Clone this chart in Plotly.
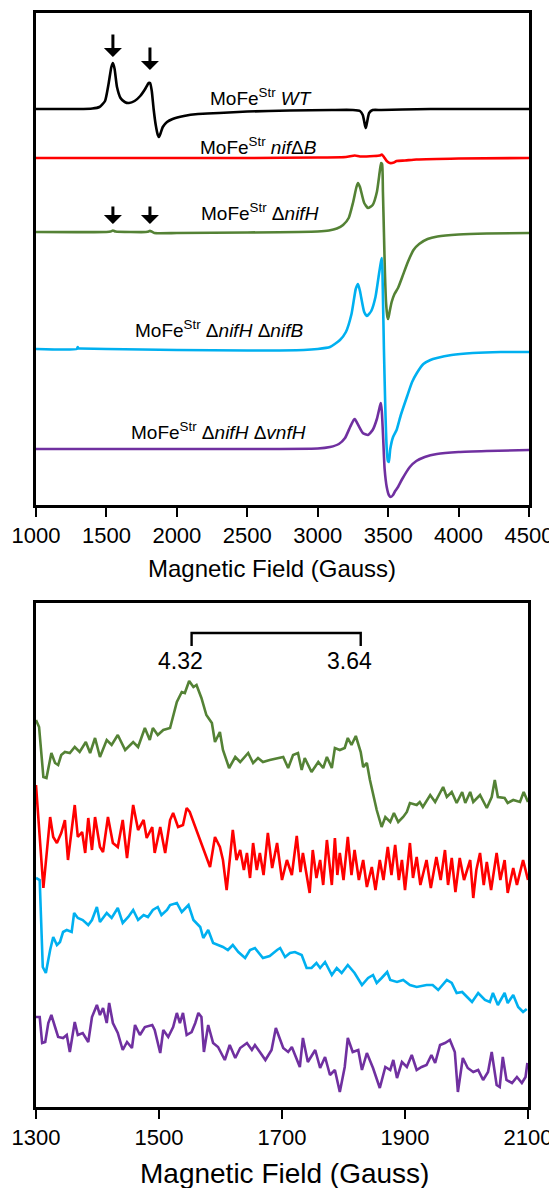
import plotly.graph_objects as go

# ---------------- Top panel data (arbitrary intensity units, relative to each baseline) ----------------
wt_field = [1000, 1300, 1400, 1450, 1490, 1515, 1535, 1546, 1558, 1575, 1600, 1630, 1660, 1700, 1740, 1775,
            1800, 1810, 1822, 1835, 1850, 1865, 1873, 1885, 1900, 1930, 1970, 2050, 2150, 2300, 2500, 2800,
            3100, 3250, 3300, 3320, 3335, 3342, 3352, 3365, 3390, 3450, 3600, 3800, 4500]
wt_int = [0, 0, 0.5, 2, 8, 25, 42, 46, 40, 22, 11, 7, 6, 8, 13, 20,
          26, 26, 18, 0, -16, -26, -28, -24, -18, -13, -10, -7, -5, -4, -2.5, -1.5,
          -1, -1, -2, -6, -16, -19, -12, -4, -1, -1, -0.5, 0, 0]

nifb_field = [1000, 1500, 2000, 2500, 3000, 3200, 3264, 3300, 3400, 3440, 3455, 3470, 3490, 3512, 3540,
              3560, 3620, 3700, 4000, 4500]
nifb_int = [0, 0, 0, 0, 0.5, 1, 2.5, 1.5, 2, 2.5, 3.5, 1, -3, -5, -4.5, -3, -2.5, -1.5, -0.5, 0]

nifh_field = [1000, 1500, 1530, 1546, 1565, 1780, 1800, 1809, 1822, 1840, 2000, 2500, 3000, 3080, 3136, 3180,
              3220, 3250, 3275, 3286, 3300, 3330, 3357, 3390, 3420, 3440, 3450, 3457, 3463, 3470, 3477, 3485,
              3495, 3500, 3510, 3525, 3545, 3570, 3600, 3640, 3680, 3720, 3780, 3850, 4000, 4200, 4500]
nifh_int = [0, 0, 0.5, 1.5, 0.5, 0, 0.5, 1.2, 0.3, -1, -1, -0.5, 0.5, 1.5, 3.5, 7,
            14, 29, 45, 49, 45, 29, 24, 27, 40, 60, 69, 68, 40, 0, -40, -70,
            -85, -87, -80, -70, -62, -56, -45, -30, -18, -12, -7, -4.5, -2.5, -1.5, -1]

nifhb_field = [1000, 1290, 1296, 1302, 1310, 1500, 2000, 2500, 2900, 3000, 3087, 3158, 3200, 3240, 3270, 3286,
               3300, 3330, 3350, 3380, 3410, 3435, 3450, 3456, 3462, 3470, 3480, 3490, 3498, 3505, 3515, 3535,
               3560, 3590, 3633, 3670, 3704, 3750, 3800, 3846, 3950, 4100, 4300, 4500]
nifhb_int = [0, 0, 2, 0.5, 0.5, 0, -1, -1.5, -1, 0, 2, 9, 17, 35, 60, 65,
             58, 37, 33, 38, 52, 75, 88, 91, 60, 0, -60, -100, -112, -113, -100, -88,
             -81, -66, -48, -33, -24, -15, -11, -9, -6, -4, -3, -3]

nifhv_field = [1000, 2000, 3000, 3087, 3150, 3194, 3230, 3255, 3264, 3280, 3320, 3357, 3390, 3420, 3440, 3448,
               3455, 3465, 3475, 3490, 3505, 3519, 3535, 3550, 3570, 3600, 3654, 3700, 3760, 3846, 4000, 4200, 4500]
nifhv_int = [0, 0, 0.5, 2, 5, 11, 22, 29, 30, 26, 16, 14, 19, 30, 42, 46,
             38, 10, -20, -38, -46, -48, -46, -42, -38, -30, -18, -12, -8, -5, -3, -2, -1]

top_offsets = {"wt": 396, "nifb": 347, "nifh": 273, "nifhb": 156, "nifhv": 56}

# ---------------- Bottom panel data (zoom 1300-2100 G) ----------------
g_field = [1300, 1305, 1312, 1317, 1325, 1331, 1336, 1341, 1347, 1355, 1363, 1371, 1381, 1388, 1396, 1404,
           1415, 1423, 1433, 1445, 1458, 1466, 1477, 1485, 1490, 1498, 1507, 1518, 1529, 1537, 1542, 1549,
           1556, 1561, 1569, 1577, 1586, 1591, 1599, 1604, 1614, 1624, 1632, 1645, 1653, 1661, 1669, 1680,
           1702, 1710, 1718, 1726, 1732, 1737, 1748, 1759, 1767, 1773, 1781, 1786, 1794, 1802, 1807, 1813,
           1820, 1828, 1832, 1838, 1843, 1854, 1862, 1868, 1876, 1882, 1889, 1897, 1903, 1908, 1919, 1924,
           1929, 1941, 1949, 1962, 1968, 1976, 1984, 1993, 1998, 2006, 2011, 2022, 2033, 2041, 2046, 2051,
           2062, 2067, 2076, 2087, 2093, 2100]
g_int = [47, 40, -10, -11, 14, 4, 2, 12, 15, 14, 20, 15, 25, 14, 29, 10,
         27, 22, 32, 17, 25, 20, 39, 27, 39, 32, 37, 39, 65, 75, 74, 86,
         80, 82, 69, 52, 44, 25, 35, 17, -1, 10, 5, 14, 4, 9, 5, 7,
         10, -1, 12, 14, -3, 9, -5, 5, -1, 10, -1, 19, 17, 19, 29, 22,
         31, 15, 0, 4, -13, -43, -60, -50, -55, -46, -55, -50, -45, -36, -38, -35,
         -40, -28, -35, -20, -30, -25, -36, -25, -36, -25, -35, -28, -41, -30, -13, -30,
         -31, -36, -33, -35, -25, -35]

r_field = [1300, 1312, 1323, 1328, 1334, 1341, 1347, 1352, 1363, 1368, 1375, 1380, 1385, 1391, 1396, 1404,
           1409, 1417, 1425, 1433, 1441, 1448, 1458, 1466, 1475, 1480, 1489, 1493, 1502, 1510, 1518, 1523,
           1531, 1539, 1545, 1550, 1559, 1567, 1575, 1583, 1591, 1599, 1604, 1610, 1620, 1626, 1632, 1638,
           1643, 1648, 1653, 1659, 1664, 1670, 1677, 1684, 1692, 1700, 1708, 1716, 1724, 1730, 1734, 1745,
           1750, 1756, 1762, 1767, 1773, 1781, 1786, 1790, 1794, 1800, 1807, 1813, 1818, 1825, 1832, 1838,
           1846, 1852, 1859, 1865, 1872, 1878, 1884, 1890, 1895, 1900, 1908, 1913, 1919, 1925, 1935, 1942,
           1951, 1958, 1965, 1970, 1976, 1982, 1989, 1996, 2006, 2011, 2016, 2022, 2028, 2033, 2040, 2049,
           2055, 2062, 2067, 2076, 2082, 2092, 2100]
r_int = [60, -43, 28, 8, 2, 12, 25, -15, 40, 8, 13, -8, 27, -5, 28, -2,
         -7, 28, 2, -2, 25, -13, 40, 15, 25, 7, 18, -8, 18, -8, 25, 32,
         18, 20, 37, 33, 18, 5, -8, -22, 8, -2, -15, -45, 15, -15, -5, -25,
         -8, -33, 2, -25, -8, -30, 12, -23, 2, -35, -15, -30, 9, -27, -8, -48,
         -5, -33, -15, -40, 5, -40, 7, -30, -8, -35, 8, -30, -5, -35, -15, -42,
         -22, -45, -15, -35, -2, -30, 0, -35, -15, -45, 2, -33, -12, -40, -15, -43,
         -12, -35, -5, -40, -13, -47, -13, -35, -15, -53, -25, -8, -40, -17, -45, -8,
         -35, -15, -48, -23, -40, -15, -35]

b_field = [1300, 1306, 1311, 1316, 1323, 1328, 1334, 1339, 1344, 1350, 1358, 1362, 1368, 1376, 1385, 1391,
           1399, 1404, 1415, 1423, 1433, 1441, 1450, 1458, 1466, 1475, 1482, 1490, 1498, 1504, 1513, 1518,
           1529, 1537, 1548, 1556, 1567, 1572, 1580, 1588, 1596, 1604, 1612, 1620, 1629, 1640, 1648, 1656,
           1669, 1680, 1692, 1697, 1705, 1713, 1721, 1732, 1740, 1748, 1756, 1762, 1770, 1781, 1789, 1797,
           1807, 1818, 1830, 1840, 1848, 1854, 1862, 1871, 1876, 1887, 1897, 1908, 1919, 1935, 1945, 1954,
           1968, 1976, 1984, 1993, 2001, 2009, 2019, 2030, 2038, 2043, 2051, 2062, 2067, 2076, 2084, 2092, 2098]
b_int = [72, 70, -17, -23, 0, 13, 5, 8, 18, 20, 18, 37, 32, 30, 25, 30,
         43, 28, 37, 32, 42, 27, 33, 40, 30, 35, 33, 40, 43, 35, 40, 45,
         47, 38, 45, 30, 23, 12, 20, 7, 5, 3, 0, 5, -2, -8, 0, 2,
         -8, -6, 0, 2, -7, -3, -2, -5, -18, -18, -13, -18, -12, -25, -18, -23,
         -15, -23, -35, -28, -25, -33, -28, -22, -30, -32, -30, -35, -37, -35, -35, -40,
         -30, -33, -43, -42, -47, -52, -43, -50, -52, -43, -55, -43, -53, -45, -57, -62, -59]

p_field = [1300, 1306, 1310, 1315, 1320, 1325, 1331, 1336, 1344, 1350, 1355, 1363, 1368, 1376, 1385, 1391,
           1399, 1404, 1409, 1415, 1419, 1425, 1433, 1441, 1448, 1456, 1461, 1469, 1477, 1489, 1493, 1502,
           1507, 1515, 1523, 1529, 1534, 1539, 1545, 1553, 1559, 1564, 1569, 1573, 1580, 1588, 1596, 1607,
           1615, 1624, 1632, 1643, 1651, 1656, 1664, 1673, 1683, 1690, 1702, 1710, 1716, 1721, 1729, 1734,
           1742, 1754, 1762, 1770, 1778, 1786, 1794, 1802, 1807, 1815, 1824, 1830, 1838, 1848, 1859, 1868,
           1876, 1881, 1887, 1895, 1903, 1911, 1919, 1927, 1935, 1943, 1949, 1957, 1965, 1973, 1981, 1986,
           1994, 2002, 2011, 2019, 2027, 2035, 2041, 2049, 2054, 2059, 2065, 2074, 2082, 2090, 2096, 2099]
p_int = [28, 28, 2, 3, 22, 30, 18, 8, 7, 10, -7, 23, 10, 12, 3, 28,
         40, 30, 37, 22, 42, 22, 12, -5, 3, -3, 20, 10, 18, 20, 15, -8,
         15, 8, 18, 32, 22, 32, 10, 13, 22, 32, 28, -7, 20, 2, -2, -15,
         0, -13, -3, 2, -5, 0, -7, -15, -5, 17, -3, -7, -2, -10, -22, 7,
         -17, -5, -23, -12, -30, -25, -47, -22, 7, -7, -5, -25, -8, -23, -43, -22,
         -25, -15, -33, -17, -22, -10, -25, -22, -20, -10, -18, 0, 2, 5, -7, -47,
         -13, -23, -27, -25, -35, -27, -7, -40, -42, -12, -35, -38, -32, -38, -32, -18]

bottom_offsets = {"g": 340, "r": 262, "b": 157, "p": 62}

top_ticks = [1000, 1500, 2000, 2500, 3000, 3500, 4000, 4500]
bottom_ticks = [1300, 1500, 1700, 1900, 2100]
top_labels = {
    "wt": "MoFe<sup>Str</sup> <i>WT</i>",
    "nifb": "MoFe<sup>Str</sup> <i>nif</i>Δ<i>B</i>",
    "nifh": "MoFe<sup>Str</sup> Δ<i>nifH</i>",
    "nifhb": "MoFe<sup>Str</sup> Δ<i>nifH</i> Δ<i>nifB</i>",
    "nifhv": "MoFe<sup>Str</sup> Δ<i>nifH</i> Δ<i>vnfH</i>",
}
arrow_fields = [1546, 1809]
g_values = ["4.32", "3.64"]
g_fields = [1553, 1828]

# ---------------- Styling ----------------
PAGE_W, PAGE_H = 557, 1188
BODY = 8                      # default page margin around the plot div
W, H = PAGE_W - BODY, PAGE_H - BODY
COL = {"wt": "#000000", "nifb": "#FF0000", "nifh": "#548235", "nifhb": "#00B0F0", "nifhv": "#7030A0"}
FONT = "Liberation Sans, Arial, sans-serif"

fig = go.Figure()

def add(x, y, off, color, xa, ya, shape="linear"):
    fig.add_trace(go.Scatter(x=x, y=[v + off for v in y], mode="lines", xaxis=xa, yaxis=ya,
                             line=dict(color=color, width=2.6, shape=shape, smoothing=0.5),
                             showlegend=False, hoverinfo="skip"))

add(wt_field, wt_int, top_offsets["wt"], COL["wt"], "x", "y", "spline")
add(nifb_field, nifb_int, top_offsets["nifb"], COL["nifb"], "x", "y", "spline")
add(nifh_field, nifh_int, top_offsets["nifh"], COL["nifh"], "x", "y", "spline")
add(nifhb_field, nifhb_int, top_offsets["nifhb"], COL["nifhb"], "x", "y", "spline")
add(nifhv_field, nifhv_int, top_offsets["nifhv"], COL["nifhv"], "x", "y", "spline")

add(g_field, g_int, bottom_offsets["g"], COL["nifh"], "x2", "y2")
add(r_field, r_int, bottom_offsets["r"], COL["nifb"], "x2", "y2")
add(b_field, b_int, bottom_offsets["b"], COL["nifhb"], "x2", "y2")
add(p_field, p_int, bottom_offsets["p"], COL["nifhv"], "x2", "y2")

def px_x(p):
    return (p - BODY) / W

def px_y(p):
    return 1 - (p - BODY) / H

top_dom_y = [px_y(505), px_y(13)]
bot_dom_y = [px_y(1107), px_y(603)]

axis_common = dict(showline=True, linecolor="black", linewidth=2.6, mirror=True, showgrid=False,
                   zeroline=False, automargin=False)

fig.update_layout(
    template="none",
    width=W, height=H, margin=dict(l=0, r=0, t=0, b=0, pad=0),
    paper_bgcolor="white", plot_bgcolor="white",
    font=dict(family=FONT, color="black"),
    xaxis=dict(domain=[px_x(36), px_x(529)], range=[1000, 4500], tickvals=top_ticks,
               ticks="outside", ticklen=9, tickwidth=2.4, tickcolor="black",
               tickfont=dict(size=22), anchor="y", **axis_common),
    yaxis=dict(domain=top_dom_y, range=[0, 492], showticklabels=False, ticks="",
               anchor="x", **axis_common),
    xaxis2=dict(domain=[px_x(36), px_x(528)], range=[1300, 2100], tickvals=bottom_ticks,
                ticks="outside", ticklen=9, tickwidth=2.4, tickcolor="black",
                tickfont=dict(size=22), anchor="y2", **axis_common),
    yaxis2=dict(domain=bot_dom_y, range=[0, 504], showticklabels=False, ticks="",
                anchor="x2", **axis_common),
)

ann = []
# axis titles
ann.append(dict(text="Magnetic Field (Gauss)", xref="paper", yref="paper", x=px_x(272), y=px_y(568),
                showarrow=False, font=dict(size=24), xanchor="center", yanchor="middle"))
ann.append(dict(text="Magnetic Field (Gauss)", xref="paper", yref="paper", x=px_x(284), y=px_y(1173),
                showarrow=False, font=dict(size=28), xanchor="center", yanchor="middle"))

# spectrum labels (top)
label_pos = {"wt": (2597, 12), "nifb": (2583, 12), "nifh": (2590, 20), "nifhb": (2299, 20), "nifhv": (2299, 18)}
for k, (fx, dy) in label_pos.items():
    ann.append(dict(text=top_labels[k], x=fx, y=top_offsets[k] + dy, xref="x", yref="y",
                    showarrow=False, font=dict(size=19), xanchor="center", yanchor="middle"))

# arrows
wt_tips = [top_offsets["wt"] + 52, top_offsets["wt"] + 39]
for fx, tip in zip(arrow_fields, wt_tips):
    ann.append(dict(text="", x=fx, y=tip, xref="x", yref="y", ax=0, ay=-24, showarrow=True,
                    arrowhead=1, arrowsize=1, arrowwidth=3, arrowcolor="black"))
for fx in arrow_fields:
    ann.append(dict(text="", x=fx, y=top_offsets["nifh"] + 8, xref="x", yref="y", ax=0, ay=-19,
                    showarrow=True, arrowhead=1, arrowsize=1, arrowwidth=3, arrowcolor="black"))

# g-value labels (bottom)
for gv, fx in zip(g_values, g_fields):
    ann.append(dict(text=gv, x=fx - 18, y=446, xref="x2", yref="y2", showarrow=False,
                    font=dict(size=23), xanchor="center", yanchor="middle"))
fig.update_layout(annotations=ann)

# bracket
fig.add_shape(type="path", xref="x2", yref="y2",
              path=f"M {g_fields[0]},461 L {g_fields[0]},474 L {g_fields[1]},474 L {g_fields[1]},461",
              line=dict(color="black", width=2.4))

fig.write_html("out.html")
